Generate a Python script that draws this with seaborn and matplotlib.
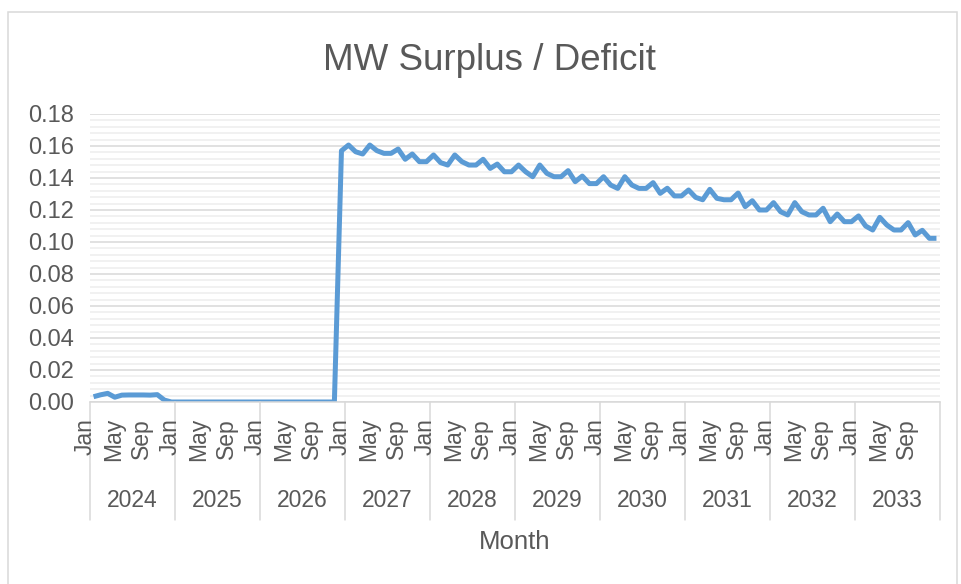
import numpy as np
import pandas as pd
import seaborn as sns
import matplotlib
matplotlib.use("Agg")
import matplotlib.pyplot as plt
from matplotlib.patches import Rectangle
from matplotlib.transforms import blended_transform_factory

years = [2024, 2025, 2026, 2027, 2028, 2029, 2030, 2031, 2032, 2033]
month_names = ['Jan', 'Feb', 'Mar', 'Apr', 'May', 'Jun',
               'Jul', 'Aug', 'Sep', 'Oct', 'Nov', 'Dec']

# MW surplus, one value per month, Jan 2024 .. Dec 2033
surplus = [
    0.0033, 0.0045, 0.0054, 0.0030, 0.0043, 0.0044, 0.0044, 0.0044, 0.0043, 0.0046, 0.0012, 0.0,     # 2024
    0.0, 0.0, 0.0, 0.0, 0.0, 0.0, 0.0, 0.0, 0.0, 0.0, 0.0, 0.0,                                       # 2025
    0.0, 0.0, 0.0, 0.0, 0.0, 0.0, 0.0, 0.0, 0.0, 0.0, 0.0, 0.1570,                                    # 2026
    0.1606, 0.1564, 0.1550, 0.1606, 0.1571, 0.1554, 0.1554, 0.1581, 0.1517, 0.1550, 0.1502, 0.1502,  # 2027
    0.1544, 0.1496, 0.1481, 0.1544, 0.1502, 0.1481, 0.1481, 0.1517, 0.1460, 0.1487, 0.1439, 0.1439,  # 2028
    0.1481, 0.1439, 0.1408, 0.1481, 0.1429, 0.1408, 0.1408, 0.1446, 0.1377, 0.1412, 0.1365, 0.1365,  # 2029
    0.1408, 0.1356, 0.1335, 0.1408, 0.1356, 0.1335, 0.1335, 0.1371, 0.1304, 0.1336, 0.1288, 0.1288,  # 2030
    0.1325, 0.1279, 0.1264, 0.1329, 0.1273, 0.1264, 0.1264, 0.1306, 0.1221, 0.1258, 0.1200, 0.1200,  # 2031
    0.1246, 0.1189, 0.1169, 0.1246, 0.1189, 0.1169, 0.1169, 0.1211, 0.1127, 0.1175, 0.1127, 0.1127,  # 2032
    0.1163, 0.1100, 0.1075, 0.1154, 0.1106, 0.1075, 0.1075, 0.1121, 0.1044, 0.1073, 0.1023, 0.1023,  # 2033
]

df = pd.DataFrame({
    'idx': np.arange(len(surplus)),
    'year': np.repeat(years, 12),
    'month': month_names * len(years),
    'MW': surplus,
})

sns.set_theme(style='white')
plt.rcParams['font.family'] = ['Liberation Sans', 'DejaVu Sans']
gray_text = '#595959'
grid_major = '#D9D9D9'
grid_minor = '#EEEEEE'

W, H = 961, 584
fig = plt.figure(figsize=(W / 100, H / 100), dpi=100)
ax = fig.add_axes([90 / W, 1 - 402 / H, 850 / W, 288 / H])

sns.lineplot(data=df, x='idx', y='MW', ax=ax, color='#5B9BD5', linewidth=3.6)
for ln in ax.lines:
    ln.set_solid_joinstyle('round')
    ln.set_solid_capstyle('butt')

# y axis: majors every 0.02, minors every 0.004
ax.set_yticks(np.arange(0, 0.181, 0.02))
ax.set_yticklabels([f'{v:.2f}' for v in np.arange(0, 0.181, 0.02)])
ax.set_yticks(np.arange(0, 0.181, 0.004), minor=True)
ax.grid(which='major', axis='y', color=grid_major, linewidth=1.1)
ax.grid(which='minor', axis='y', color=grid_minor, linewidth=1.1)
ax.set_axisbelow(True)
ax.tick_params(axis='y', which='both', length=0, pad=11.5, labelsize=17, labelcolor=gray_text)

ax.set_xticks([])
ax.set_xlim(-0.5, len(surplus) - 0.5)
ax.set_ylim(0, 0.18)
ax.set_xlabel('')
ax.set_ylabel('')

for side in ['top', 'right', 'left']:
    ax.spines[side].set_visible(False)
ax.spines['bottom'].set_color(grid_major)
ax.spines['bottom'].set_linewidth(1.1)

trans = blended_transform_factory(ax.transData, ax.transAxes)

# month labels every 4th month, rotated (Excel draws them a bit left of the point)
lab = df.iloc[::4]
for i, m in zip(lab['idx'], lab['month']):
    ax.text(i - 1.2, -16 / 288, m, transform=trans, rotation=90,
            ha='center', va='top', fontsize=16.5, color=gray_text, clip_on=False)

# year group separators and labels
for k in range(len(years) + 1):
    ax.axvline(12 * k - 0.5, ymin=-118 / 288, ymax=0, color=grid_major,
               linewidth=1.1, clip_on=False)
for k, yr in enumerate(years):
    ax.text(12 * k + 5.5, -(507 - 402) / 288, str(yr), transform=trans,
            ha='center', va='baseline', fontsize=16.5, color=gray_text)

ax.text(0.5, -(549 - 402) / 288, 'Month', transform=ax.transAxes,
        ha='center', va='baseline', fontsize=18.5, color=gray_text)

fig.text(489 / W, 1 - 69.5 / H, 'MW Surplus / Deficit', ha='center',
         va='baseline', fontsize=26.5, color=gray_text)

# chart area border
fig.patches.append(Rectangle((8 / W, -0.05), (957 - 8) / W, 1.05 - 12 / H,
                             transform=fig.transFigure, fill=False,
                             edgecolor=grid_major, linewidth=1.1))

fig.savefig('out.png', dpi=100)
